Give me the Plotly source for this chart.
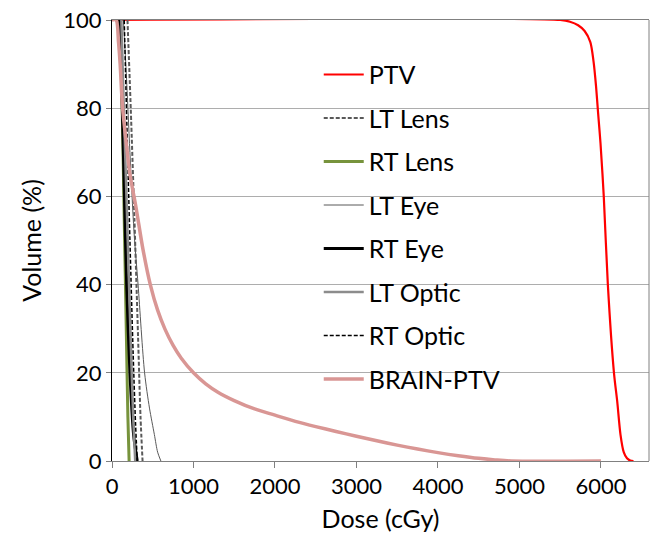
import plotly.graph_objects as go

# ---- data (dose cGy, volume %) ----
ptv_dose = [0, 5500, 5620, 5720, 5800, 5870, 5910, 5940, 5965, 5995, 6035, 6085, 6160, 6200, 6240, 6280, 6320, 6360, 6400]
ptv_vol = [100, 100, 99.6, 98.8, 97.5, 95.0, 90.5, 85.0, 79.0, 72.0, 60.0, 40.0, 20.0, 13.5, 6.0, 2.0, 0.6, 0.1, 0]

lt_lens_dose = [190, 230, 275, 320, 350, 375]
lt_lens_vol = [100, 80, 55, 28, 10, 0]

rt_lens_dose = [100, 125, 150, 175, 195, 210]
rt_lens_vol = [100, 80, 55, 30, 10, 0]

lt_eye_dose = [140, 175, 220, 270, 320, 400, 460, 520, 560, 600]
lt_eye_vol = [100, 88, 70, 52, 40, 20, 12, 6, 2, 0]

rt_eye_dose = [95, 120, 150, 180, 220, 265, 310]
rt_eye_vol = [100, 85, 62, 40, 20, 6, 0]

lt_optic_dose = [115, 145, 185, 225, 260, 285]
lt_optic_vol = [100, 80, 55, 30, 10, 0]

rt_optic_dose = [150, 180, 220, 260, 290, 310]
rt_optic_vol = [100, 78, 50, 24, 8, 0]

brain_dose = [0, 50, 80, 100, 130, 170, 220, 290, 380, 470, 560, 650, 750, 850, 1000, 1150, 1300,
              1500, 1750, 2000, 2250, 2500, 2750, 3000, 3250, 3500, 3750, 4000, 4250, 4500, 4700, 4900, 6000]
brain_vol = [100, 100, 95, 90, 80, 73, 65, 58, 48, 40, 34.2, 29.9, 26.2, 23.3, 20, 17.5, 15.6,
             13.7, 11.8, 10.4, 9.0, 7.8, 6.7, 5.6, 4.6, 3.6, 2.7, 1.9, 1.2, 0.6, 0.25, 0, 0]

series = [
    ("PTV", ptv_dose, ptv_vol, "#FF0000", 2.2, "solid"),
    ("LT Lens", lt_lens_dose, lt_lens_vol, "#595959", 2, "dash"),
    ("RT Lens", rt_lens_dose, rt_lens_vol, "#77933C", 3, "solid"),
    ("LT Eye", lt_eye_dose, lt_eye_vol, "#595959", 1, "solid"),
    ("RT Eye", rt_eye_dose, rt_eye_vol, "#000000", 3, "solid"),
    ("LT Optic", lt_optic_dose, lt_optic_vol, "#8C8C8C", 2.5, "solid"),
    ("RT Optic", rt_optic_dose, rt_optic_vol, "#000000", 1.5, "dash"),
    ("BRAIN-PTV", brain_dose, brain_vol, "#D99694", 3.5, "solid"),
]

x_ticks = [0, 1000, 2000, 3000, 4000, 5000, 6000]
y_ticks = [0, 20, 40, 60, 80, 100]

FONT = "Lato"

fig = go.Figure()
for i, (name, xs, ys, col, w, dash) in enumerate(series):
    fig.add_trace(go.Scatter(
        x=xs, y=ys, mode="lines", name=name, legendgroup=f"g{i}",
        line=dict(color=col, width=w, dash=("4px,2px" if dash == "dash" else dash),
                  shape="spline", smoothing=0.8),
    ))

fig.update_layout(
    width=653, height=547,
    margin=dict(l=112, r=4, t=20, b=86),
    paper_bgcolor="white", plot_bgcolor="white",
    font=dict(family=FONT, size=22, color="#000000"),
    showlegend=True,
    legend=dict(
        x=0.385, y=0.928, xanchor="left", yanchor="top",
        bgcolor="rgba(0,0,0,0)", font=dict(family=FONT, size=25, color="#000000"),
        tracegroupgap=8, itemwidth=40,
    ),
    xaxis=dict(
        range=[0, 6590], tickvals=x_ticks, ticktext=[str(v) for v in x_ticks],
        showgrid=False, zeroline=False, showline=True, linecolor="#808080", linewidth=1,
        mirror=True, ticks="outside", ticklen=6, tickcolor="#808080",
        tickfont=dict(family=FONT, size=22),
        title=dict(text="Dose (cGy)", font=dict(family=FONT, size=25), standoff=12),
    ),
    yaxis=dict(
        range=[0, 100], tickvals=y_ticks, ticktext=[str(v) for v in y_ticks],
        showgrid=True, gridcolor="#ADADAD", gridwidth=1,
        zeroline=False, showline=True, linecolor="#000000", linewidth=1,
        ticks="outside", ticklen=5, tickcolor="#808080",
        tickfont=dict(family=FONT, size=22),
        title=dict(text="Volume (%)", font=dict(family=FONT, size=25), standoff=14),
    ),
)
fig.add_shape(type="line", xref="paper", yref="paper", x0=1, x1=1, y0=0, y1=1,
              line=dict(color="#808080", width=1))

fig.write_html("out.html")
